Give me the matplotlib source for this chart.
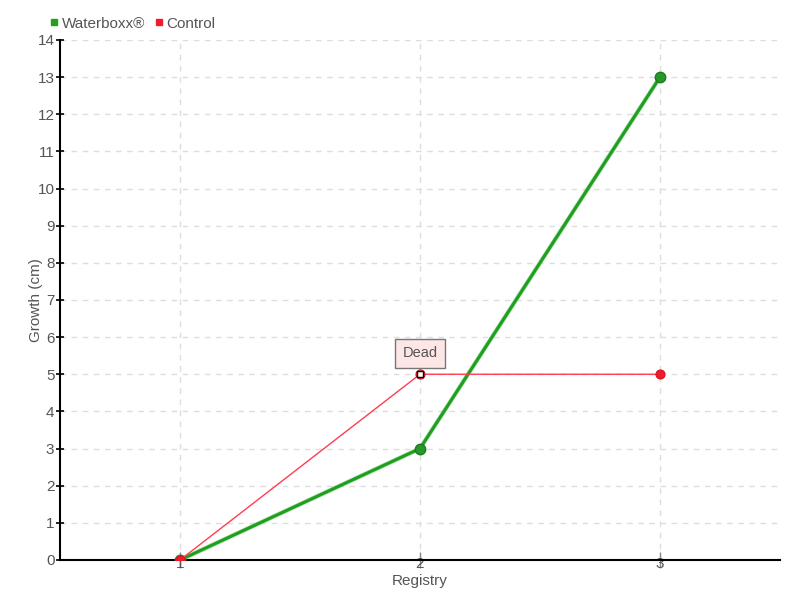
import matplotlib
matplotlib.use("Agg")
import matplotlib.pyplot as plt
from matplotlib.lines import Line2D

plt.rcParams['font.family'] = ['Liberation Sans', 'DejaVu Sans']

registry = [1, 2, 3]
waterboxx = [0, 3, 13]
control = [0, 5, 5]
yticks = list(range(0, 15))
xticks = [1, 2, 3]
annot_text = "Dead"
annot_idx = 1

text_color = '#555555'
green = '#1f9e1f'
red = '#ff3d50'

fig = plt.figure(figsize=(8, 6), dpi=100)
ax = fig.add_axes([0.075, 0.0667, 0.9, 0.8667])

ax.plot(registry, waterboxx, color='#7fd07f', lw=3.2, alpha=0.7, zorder=2.9)
ax.plot(registry, waterboxx, color=green, lw=2.2,
        marker='o', markersize=7.5, markerfacecolor='#28982a', markeredgecolor='#1d7a1d',
        markeredgewidth=1, zorder=3)
ax.plot(registry, control, color=red, lw=1, marker='o', markersize=6.5,
        markerfacecolor='#ee1c2e', markeredgecolor='#d81424', markeredgewidth=0.8, zorder=4)
# highlighted point
ax.plot([registry[annot_idx]], [control[annot_idx]], linestyle='none', marker='s', markersize=4,
        markerfacecolor='white', markeredgecolor='black', markeredgewidth=1, zorder=5)

ax.annotate(annot_text, xy=(registry[annot_idx], control[annot_idx]),
            xytext=(0, 15), textcoords='offset points', ha='center', va='center',
            fontsize=10.5, color=text_color,
            bbox=dict(boxstyle='square,pad=0.5', facecolor='#fde6e6', edgecolor='#777777', lw=1),
            arrowprops=dict(arrowstyle='-', color='#777777', lw=1, shrinkA=0, shrinkB=3),
            zorder=6)

ax.set_xlim(0.5, 3.5)
ax.set_ylim(0, 14)
ax.set_xticks(xticks)
ax.set_yticks(yticks)
ax.grid(True, color='#dddddd', linestyle=(0, (4, 4)), lw=1)
ax.set_axisbelow(True)

for s in ['top', 'right']:
    ax.spines[s].set_visible(False)
for s in ['left', 'bottom']:
    ax.spines[s].set_color('black')
    ax.spines[s].set_linewidth(1.5)

ax.tick_params(axis='y', direction='inout', length=6, width=1.2, color='black',
               labelcolor=text_color, labelsize=11, pad=1)
ax.tick_params(axis='x', direction='inout', length=12, width=1, color='#888888',
               labelcolor=text_color, labelsize=11, pad=-8)

ax.set_xlabel('Registry', color=text_color, fontsize=11, labelpad=2)
ax.set_ylabel('Growth (cm)', color=text_color, fontsize=11, labelpad=-4)

handles = [Line2D([], [], linestyle='none', marker='s', markersize=5, color='#22a022'),
           Line2D([], [], linestyle='none', marker='s', markersize=5, color='#ee1c2e')]
fig.legend(handles, ['Waterboxx®', 'Control'], loc='upper left', bbox_to_anchor=(0.045, 0.995),
           ncol=2, frameon=False, handlelength=0.6, handletextpad=0.2, columnspacing=0.6,
           fontsize=11, labelcolor=text_color)

fig.savefig('out.png', dpi=100)
